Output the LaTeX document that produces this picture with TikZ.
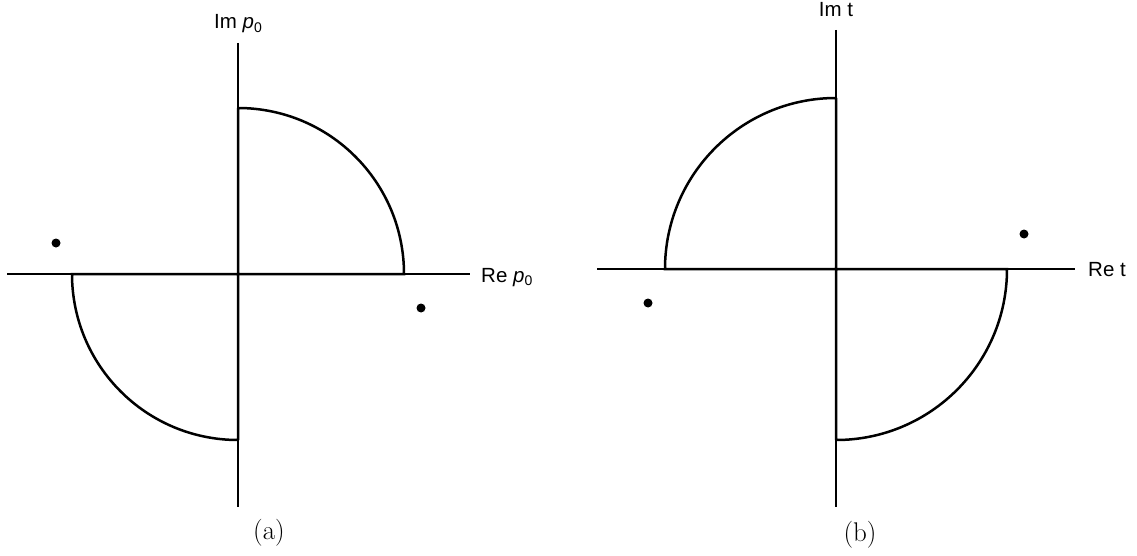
\documentclass[tikz,border=0pt]{standalone}
\usepackage{fontspec}
\newfontfamily\lab{Liberation Sans}
\begin{document}
\begin{tikzpicture}[x=1pt,y=-1pt,
  axisline/.style={line width=1.1pt},
  contour/.style={line width=2.5pt, line join=miter},
  pole/.style={circle, fill=black, inner sep=0pt, minimum size=9pt},
  lbl/.style={font=\lab\fontsize{20.5}{23}\selectfont, inner sep=0pt},
  captext/.style={font=\fontsize{27}{32}\selectfont, inner sep=0pt}]
\useasboundingbox (0,0) rectangle (1137,556);
\newcommand{\pzero}{{\itshape p}\raisebox{-0.3ex}{\fontsize{14}{15}\selectfont 0}}
% ---- (a)
\coordinate (oa) at (238,274);
\coordinate (al) at (7,274);
\coordinate (ar) at (470,274);
\coordinate (at) at (238,43);
\coordinate (ab) at (238,507);
\draw[axisline] (al) -- (ar);
\draw[axisline] (at) -- (ab);
\draw[contour] (238,108) -- (oa) -- (404,274) arc[start angle=0, end angle=-90, radius=166];
\draw[contour] (238,440) -- (oa) -- (72,274) arc[start angle=180, end angle=90, radius=166];
\node[pole] (pa1) at (56,243) {};
\node[pole] (pa2) at (421,308) {};
\node[lbl, anchor=base] (ima) at (238,29) {Im \pzero};
\node[lbl, anchor=base west] (rea) at (481,282) {Re \pzero};
\node[captext] (capa) at (269,533) {(a)};
% ---- (b)
\coordinate (ob) at (836,269);
\coordinate (bl) at (597,269);
\coordinate (br) at (1075,269);
\coordinate (bt) at (836,30);
\coordinate (bb) at (836,507);
\draw[axisline] (bl) -- (br);
\draw[axisline] (bt) -- (bb);
\draw[contour] (836,98) -- (ob) -- (665,269) arc[start angle=180, end angle=270, radius=171];
\draw[contour] (836,440) -- (ob) -- (1007,269) arc[start angle=0, end angle=90, radius=171];
\node[pole] (pb1) at (1024,234) {};
\node[pole] (pb2) at (648,303) {};
\node[lbl, anchor=base] (imb) at (836,17) {Im t};
\node[lbl, anchor=base west] (reb) at (1088,276) {Re t};
\node[captext] (capb) at (860,535) {(b)};
\end{tikzpicture}
\end{document}
